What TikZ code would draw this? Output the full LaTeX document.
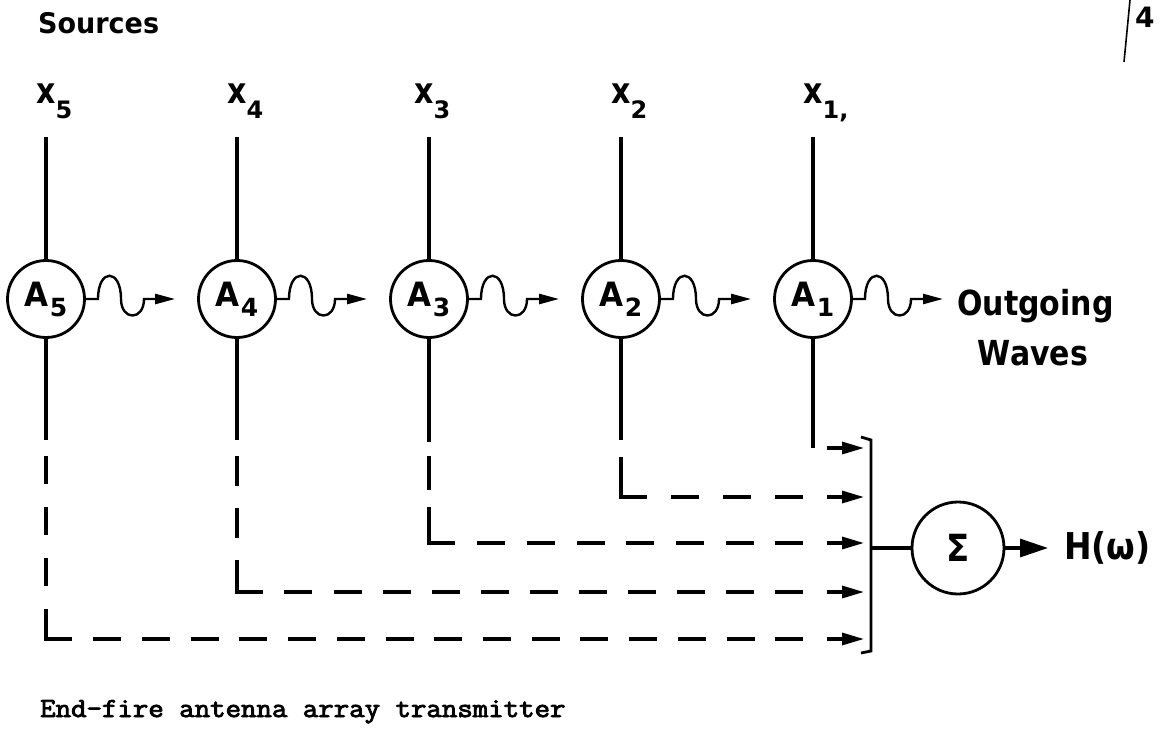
\documentclass[tikz,border=0pt]{standalone}
\usepackage{fontspec}
\usepackage{graphicx}
\usetikzlibrary{arrows.meta}
\newfontfamily\lett{DejaVu Sans}
\newfontfamily\capt{Latin Modern Mono}[FakeBold=3]
\newcommand{\fsz}[1]{\fontsize{#1}{#1}\selectfont}
\newcommand{\tallt}[2][1.15]{\scalebox{1}[#1]{#2}}
\begin{document}
\begin{tikzpicture}[x=1pt,y=-1pt,
  ln/.style={line width=3.2pt},
  circ/.style={circle, draw, line width=2.8pt, minimum size=77pt, inner sep=0pt, font=\lett\bfseries\fsz{31}},
  wv/.style={line width=2.4pt, -{Triangle[length=20pt,width=10pt]}},
  dsh/.style={line width=3.2pt, line cap=rect},
  inarr/.style={line width=3.2pt, -{Triangle[length=22pt,width=12pt]}},
  txt/.style={inner sep=0pt, font=\lett\bfseries},
]
\useasboundingbox (0,0) rectangle (1165,734);

% headings
\node[txt, anchor=base west] (src) at (38,33) {\fsz{27}\tallt[1.05]{Sources}};
\node[txt, anchor=base west] (pg) at (1135,27) {\fsz{28}4};
\draw[line width=1.6pt] (1130,0) -- (1124,62);

% source labels
\node[txt, anchor=base west] (x5) at (36,103) {\fsz{30}\tallt[1.2]{x}\raisebox{-15pt}{\fsz{24}5}};
\node[txt, anchor=base west] (x4) at (227,103) {\fsz{30}\tallt[1.2]{x}\raisebox{-15pt}{\fsz{24}4}};
\node[txt, anchor=base west] (x3) at (414,103) {\fsz{30}\tallt[1.2]{x}\raisebox{-15pt}{\fsz{24}3}};
\node[txt, anchor=base west] (x2) at (611,103) {\fsz{30}\tallt[1.2]{x}\raisebox{-15pt}{\fsz{24}2}};
\node[txt, anchor=base west] (x1) at (803,103) {\fsz{30}\tallt[1.2]{x}\raisebox{-15pt}{\fsz{24}1,}};

% antenna elements
\node[circ] (A5) at (46,299)  {\tallt[1.08]{A}\kern1pt\raisebox{-10pt}{\fsz{25}5}};
\node[circ] (A4) at (237,299) {\tallt[1.08]{A}\kern1pt\raisebox{-10pt}{\fsz{25}4}};
\node[circ] (A3) at (429,299) {\tallt[1.08]{A}\kern1pt\raisebox{-10pt}{\fsz{25}3}};
\node[circ] (A2) at (621,299) {\tallt[1.08]{A}\kern1pt\raisebox{-10pt}{\fsz{25}2}};
\node[circ] (A1) at (813,299) {\tallt[1.08]{A}\kern1pt\raisebox{-10pt}{\fsz{25}1}};

% feed lines from the sources
\foreach \i/\xc in {5/46,4/237,3/429,2/621,1/813}{
  \coordinate (t\i) at (\xc,137);
  \draw[ln] (t\i) -- (A\i.north);
}

% waves between elements
\foreach \i/\j/\xc in {5/4/46,4/3/237,3/2/429,2/1/621}{
  \draw[wv] (A\i.east) -- (\xc+52,299)
    .. controls (\xc+52,268) and (\xc+75,268) .. (\xc+75,299)
    .. controls (\xc+75,321) and (\xc+98,321) .. (\xc+98,299)
    -- ([xshift=-22pt]A\j.west);
}

% outgoing waves
\node[txt, anchor=base west] (og) at (957,315) {\fsz{30}\tallt{Outgoing}};
\node[txt, anchor=base] (wa) at (1033,365) {\fsz{30}\tallt{Waves}};
\coordinate (ogt) at (943,299);
\draw[wv] (A1.east) -- (865,299)
    .. controls (865,268) and (888,268) .. (888,299)
    .. controls (888,321) and (911,321) .. (911,299)
    -- (ogt);

% outputs: solid parts
\coordinate (s5) at (46,440);
\coordinate (s4) at (237,440);
\coordinate (s3) at (429,442);
\coordinate (s2) at (621,440);
\coordinate (s1) at (813,448);
\foreach \i in {5,4,3,2,1}{ \draw[ln] (A\i.south) -- (s\i); }

% corners and dashed runs (dash/gap chosen so each run starts and ends with a dash)
\coordinate (d5) at (46,458);  \coordinate (c5) at (46,639);
\coordinate (d4) at (237,458); \coordinate (c4) at (237,592);
\coordinate (d3) at (429,458); \coordinate (c3) at (429,543);
\coordinate (d2) at (621,457); \coordinate (c2) at (621,497);
\draw[dsh, dash pattern=on 24.8pt off 26.2pt] (d5) -- (c5);
\draw[dsh, dash pattern=on 26.8pt off 25.2pt] (d4) -- (c4);
\draw[dsh, dash pattern=on 30.8pt off 20.2pt] (d3) -- (c3);
\draw[ln] (d2) -- (c2);

\coordinate (e5) at (805,639); \coordinate (e4) at (805,592);
\coordinate (e3) at (805,543); \coordinate (e2) at (805,497);
\draw[dsh, dash pattern=on 24.8pt off 23.93pt] (c5) -- (e5);
\draw[dsh, dash pattern=on 24.8pt off 24.29pt] (c4) -- (e4);
\draw[dsh, dash pattern=on 24.8pt off 24.91pt] (c3) -- (e3);
\draw[dsh, dash pattern=on 24.8pt off 27.2pt]  (c2) -- (e2);

\foreach \i/\y in {5/639,4/592,3/543,2/497,1/448}{
  \coordinate (g\i) at (827,\y);
  \coordinate (b\i) at (864,\y);
  \draw[inarr] (g\i) -- (b\i);
}

% summing bracket
\draw[line width=2.8pt] (861,437) -- (871,440) -- (871,651) -- (861,653);
\coordinate (bm) at (871,548);
\node[circ, minimum size=92pt, font=\lett\bfseries\fsz{34}] (S) at (958,548) {\tallt[1.1]{Σ}};
\draw[ln] (bm) -- (S.west);

\node[txt, anchor=west] (Hw) at (1064,548) {\fsz{33}\tallt[1.12]{H(ω)}};
\draw[line width=3.2pt, -{Triangle[length=28pt,width=18pt]}] (S.east) -- ([xshift=-16pt]Hw.west);

% caption
\node[inner sep=0pt, anchor=base west, font=\capt\fsz{30}] (cap) at (40,717) {\scalebox{1}[0.92]{End-fire antenna array transmitter}};
\end{tikzpicture}
\end{document}
